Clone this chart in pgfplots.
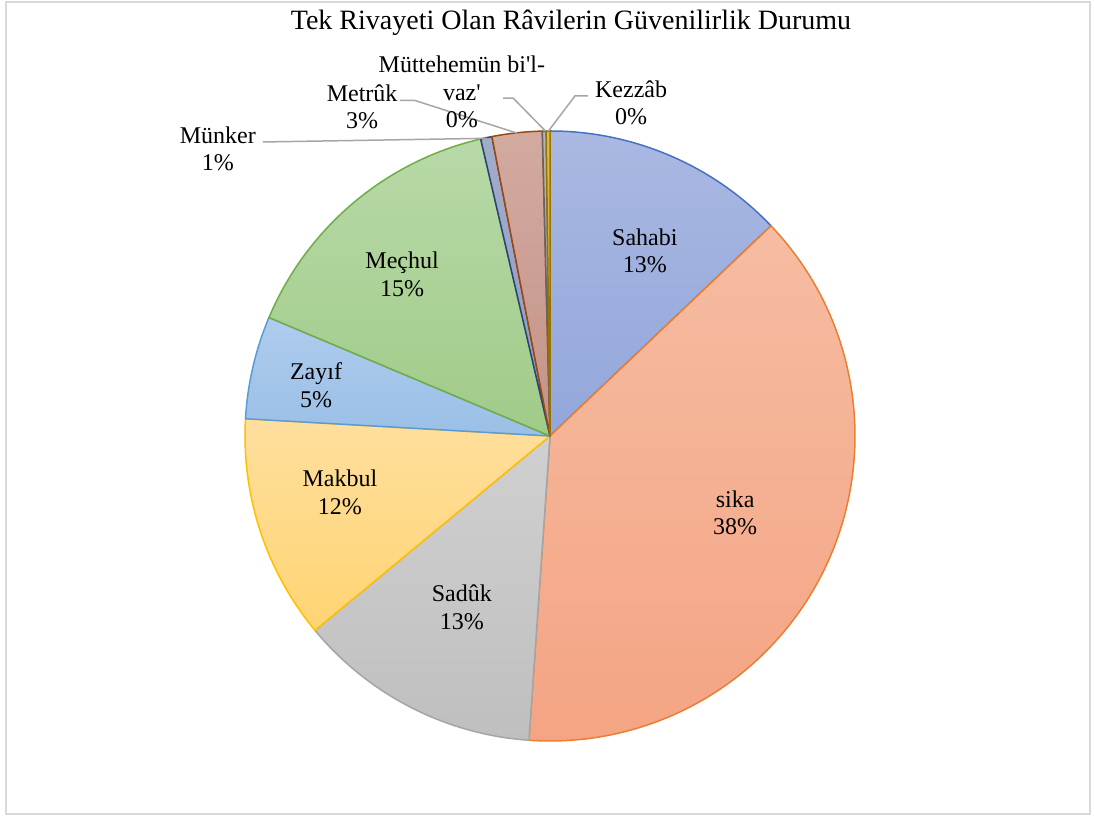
\documentclass[border=0pt]{standalone}
\usepackage{fontspec}
\setmainfont{Liberation Serif}
\usepackage{pgfplots}
\usepackage{pgfplotstable}
\pgfplotsset{compat=1.18}

\definecolor{cAtop}{HTML}{AAB8E2}\definecolor{cAbot}{HTML}{92A7DA}\definecolor{cAline}{HTML}{4472C4}
\definecolor{cBtop}{HTML}{F6BCA2}\definecolor{cBbot}{HTML}{F4A483}\definecolor{cBline}{HTML}{ED7D31}
\definecolor{cCtop}{HTML}{D0D0D0}\definecolor{cCbot}{HTML}{BFBFBF}\definecolor{cCline}{HTML}{A5A5A5}
\definecolor{cDtop}{HTML}{FFDF9E}\definecolor{cDbot}{HTML}{FFD473}\definecolor{cDline}{HTML}{FFC000}
\definecolor{cEtop}{HTML}{AECCEE}\definecolor{cEbot}{HTML}{9BBFE6}\definecolor{cEline}{HTML}{5B9BD5}
\definecolor{cFtop}{HTML}{B8D9A8}\definecolor{cFbot}{HTML}{A0CB88}\definecolor{cFline}{HTML}{70AD47}
\definecolor{cGtop}{HTML}{A3ACC9}\definecolor{cGbot}{HTML}{8E9ABF}\definecolor{cGline}{HTML}{264478}
\definecolor{cHtop}{HTML}{D3AAA0}\definecolor{cHbot}{HTML}{C49388}\definecolor{cHline}{HTML}{9E480E}
\definecolor{cItop}{HTML}{B5B5B5}\definecolor{cIbot}{HTML}{A5A5A5}\definecolor{cIline}{HTML}{636363}
\definecolor{cJtop}{HTML}{DDB955}\definecolor{cJbot}{HTML}{CFA83A}\definecolor{cJline}{HTML}{997300}
\definecolor{leader}{HTML}{A6A6A6}
\definecolor{frame}{HTML}{D9D9D9}

\tikzset{lbl/.style={font=\fontsize{12pt}{13.8pt}\selectfont, align=center, text=black, inner sep=0pt}}

% share of each category (percent)
\pgfplotstableread{
key value
cA 12.9
cB 38.2
cC 12.9
cD 11.9
cE 5.45
cF 15.0
cG 0.6
cH 2.65
cI 0.2
cJ 0.2
}\piedata

\begin{document}
\begin{tikzpicture}
\useasboundingbox (0,0) rectangle (547pt,409pt);
\draw[frame, line width=0.75pt, fill=white] (3pt,2pt) rectangle (545pt,408pt);
\node[anchor=base, font=\fontsize{14pt}{16pt}\selectfont] at (285.5pt,394pt) {Tek Rivayeti Olan Râvilerin Güvenilirlik Durumu};
\begin{axis}[
  x=152.5pt, y=152.5pt,
  xmin=-1, xmax=1, ymin=-1, ymax=1,
  hide axis, clip=false,
  at={(275pt,191pt)}, anchor=origin,
]
\pgfplotstablegetrowsof{\piedata}
\pgfmathtruncatemacro\lastrow{\pgfplotsretval-1}
\def\acc{0}
\pgfplotsforeachungrouped \i in {0,...,\lastrow}{%
  \pgfplotstablegetelem{\i}{value}\of\piedata
  \let\val\pgfplotsretval
  \pgfplotstablegetelem{\i}{key}\of\piedata
  \let\key\pgfplotsretval
  \pgfmathsetmacro\angA{90-3.6*\acc}%
  \pgfmathsetmacro\angB{90-3.6*(\acc+\val)}%
  \pgfmathsetmacro\acc{\acc+\val}%
  \edef\temp{\noexpand\draw[top color=\key top, bottom color=\key bot, draw=\key line, line width=0.75pt, line join=round] (axis cs:0,0) -- (axis cs:{cos(\angA)},{sin(\angA)}) arc[start angle=\angA, end angle=\angB, radius=152.5pt] -- cycle;}%
  \temp
}
% leader lines
\draw[leader, line width=0.75pt] (axis cs:-0.941,0.964) -- (axis cs:-0.205,0.976);
\draw[leader, line width=0.75pt] (axis cs:-0.492,1.100) -- (axis cs:-0.443,1.100) -- (axis cs:-0.108,0.993);
\draw[leader, line width=0.75pt] (axis cs:-0.154,1.108) -- (axis cs:-0.121,1.108) -- (axis cs:-0.015,1.0);
\draw[leader, line width=0.75pt] (axis cs:0.125,1.115) -- (axis cs:0.082,1.115) -- (axis cs:-0.005,1.0);
% labels
\node[lbl] at (axis cs:0.311,0.607) {Sahabi\\13\%};
\node[lbl] at (axis cs:0.607,-0.252) {sika\\38\%};
\node[lbl] at (axis cs:-0.289,-0.561) {Sadûk\\13\%};
\node[lbl] at (axis cs:-0.689,-0.184) {Makbul\\12\%};
\node[lbl] at (axis cs:-0.767,0.167) {Zayıf\\5\%};
\node[lbl] at (axis cs:-0.485,0.531) {Meçhul\\15\%};
\node[lbl] at (axis cs:-1.089,0.941) {Münker\\1\%};
\node[lbl] at (axis cs:-0.616,1.079) {Metrûk\\3\%};
\node[lbl] at (axis cs:-0.289,1.128) {Müttehemün bi\textquotesingle l-\\vaz\textquotesingle\\0\%};
\node[lbl] at (axis cs:0.266,1.092) {Kezzâb\\0\%};
\end{axis}
\end{tikzpicture}
\end{document}
